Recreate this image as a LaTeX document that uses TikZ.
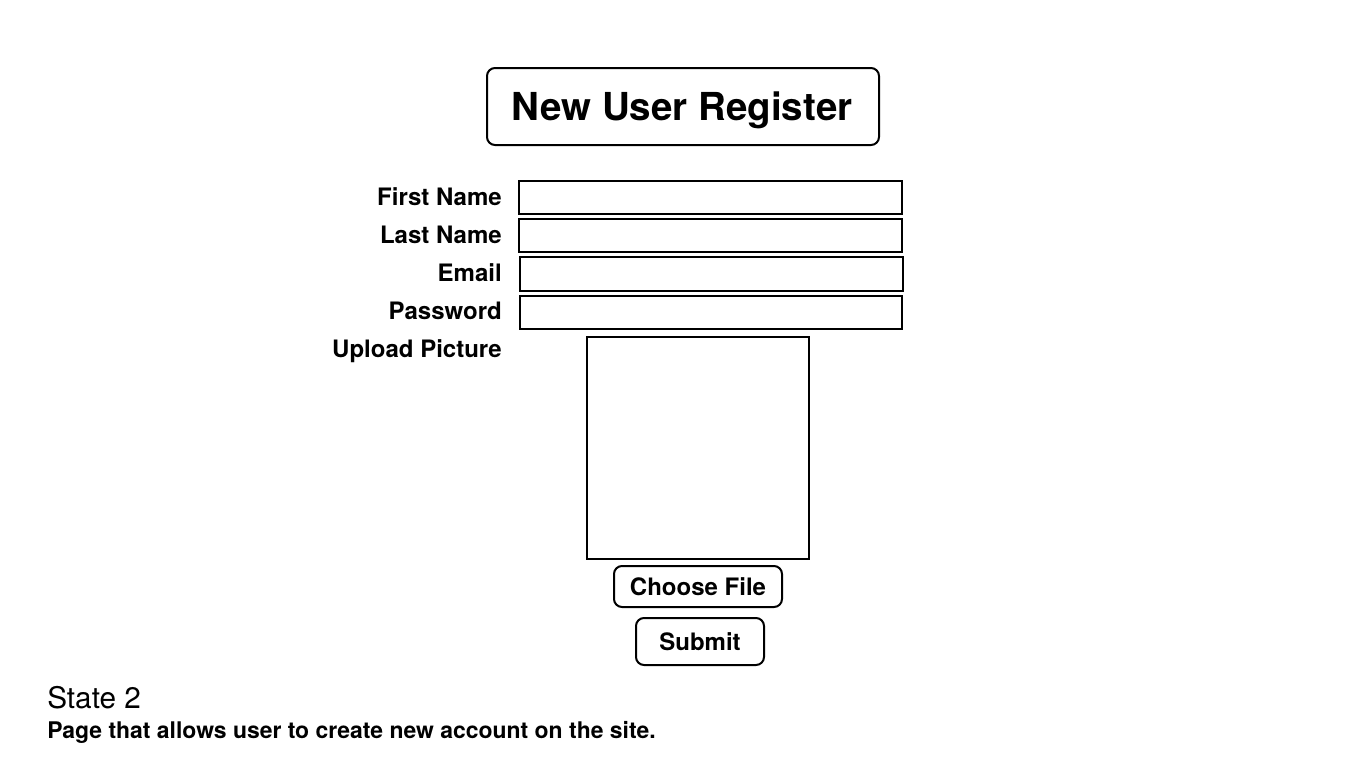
\documentclass[tikz,border=0pt]{standalone}
\usepackage{fontspec}
\setmainfont{TeX Gyre Heros}
\begin{document}
\begin{tikzpicture}[x=0.75pt,y=-0.75pt,
  box/.style={draw=black,line width=1.5pt,inner sep=0pt,fill=white},
  rbox/.style={box,rounded corners=6pt},
  lbl/.style={anchor=base east,inner sep=0pt,font=\fontsize{18}{20}\selectfont\bfseries},
  btxt/.style={font=\fontsize{18}{20}\selectfont\bfseries}]
\useasboundingbox[fill=white] (0,0) rectangle (1366,768);
% title
\node[rbox,minimum width=294pt,minimum height=57.75pt] (title) at (683,106.5) {};
\node[anchor=base,inner sep=0pt,font=\fontsize{28.9}{32}\selectfont\bfseries] (titletxt) at (682,120) {New User Register};
% fields
\node[box,minimum width=287.25pt,minimum height=24.75pt] (fn) at (710.5,197.5) {};
\node[box,minimum width=287.25pt,minimum height=24.75pt] (ln) at (710.5,235.5) {};
\node[box,minimum width=287.25pt,minimum height=25.5pt] (em) at (711.5,274) {};
\node[box,minimum width=286.5pt,minimum height=24.75pt] (pw) at (711,312.5) {};
\node[box,minimum width=166.5pt,minimum height=166.5pt] (pic) at (698,448) {};
% labels
\node[lbl] (fnl) at (502,205.5) {First Name};
\node[lbl] (lnl) at (502,243.5) {Last Name};
\node[lbl] (eml) at (502,281.5) {Email};
\node[lbl] (pwl) at (502,319.5) {Password};
\node[lbl] (picl) at (502,357.5) {Upload Picture};
% buttons
\node[rbox,btxt,minimum width=126pt,minimum height=30.75pt] (choose) at (698,586.5) {Choose File};
\node[rbox,btxt,minimum width=96pt,minimum height=35.25pt] (submit) at (700,641.5) {Submit};
% footer
\node[anchor=base west,inner sep=0pt,font=\fontsize{22.3}{24}\selectfont] (state) at (47,708) {State 2};
\node[anchor=base west,inner sep=0pt,font=\fontsize{17.2}{19}\selectfont\bfseries] (desc) at (47,738) {Page that allows user to create new account on the site.};
\end{tikzpicture}
\end{document}
